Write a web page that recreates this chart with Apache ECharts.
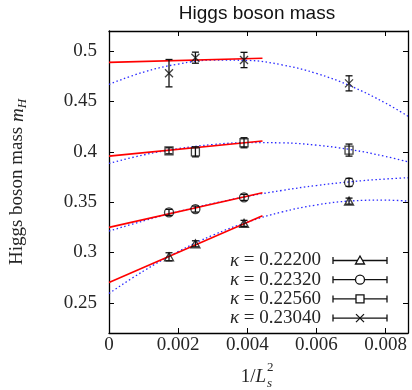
<!DOCTYPE html>
<html>
<head>
<meta charset="utf-8">
<script src="https://cdn.jsdelivr.net/npm/echarts@6.0.0/dist/echarts.min.js"></script>
<style>
  html, body { margin: 0; padding: 0; background: #fff; }
  #chart { width: 412px; height: 390px; }
</style>
</head>
<body>
<div id="chart"></div>
<script>
// 1/L_s^2 for L_s = 24, 20, 16, 12
const invL2 = [0.001736, 0.0025, 0.003906, 0.006944]

const kappas = ['0.22200', '0.22320', '0.22560', '0.23040']

// measured m_H and errors, one array per kappa
const mass22200 = [0.2957, 0.3086, 0.3289, 0.3510]
const err22200 = [0.004, 0.003, 0.003, 0.003]
const mass22320 = [0.3398, 0.3431, 0.3547, 0.3696]
const err22320 = [0.003, 0.003, 0.003, 0.004]
const mass22560 = [0.4010, 0.4000, 0.4090, 0.4017]
const err22560 = [0.003, 0.005, 0.005, 0.006]
const mass23040 = [0.4781, 0.4935, 0.4912, 0.4680]
const err23040 = [0.0136, 0.0055, 0.0076, 0.0075]

// linear fits (red), endpoints
const fitX = [0, 0.00444]
const fit22200 = [0.2702, 0.3364]
const fit22320 = [0.3249, 0.3593]
const fit22560 = [0.3957, 0.4107]
const fit23040 = [0.4888, 0.4930]

// dotted curves (blue)
const curveX = [0, 0.001, 0.002, 0.003, 0.004, 0.005, 0.006, 0.007, 0.008, 0.00865]
const curve22200 = [0.2593, 0.2816, 0.3009, 0.3171, 0.3302, 0.3402, 0.3472, 0.3512, 0.3520, 0.3510]
const curve22320 = [0.3212, 0.3314, 0.3406, 0.3486, 0.3557, 0.3616, 0.3665, 0.3703, 0.3730, 0.3742]
const curve22560 = [0.3885, 0.3969, 0.4031, 0.4072, 0.4091, 0.4089, 0.4066, 0.4021, 0.3954, 0.3900]
const curve23040 = [0.4670, 0.4792, 0.4872, 0.4911, 0.4908, 0.4864, 0.4779, 0.4652, 0.4484, 0.4353]

const xTicks = [0, 0.002, 0.004, 0.006, 0.008]
const yTicks = [0.25, 0.3, 0.35, 0.4, 0.45, 0.5]

const sets = [
  { mass: mass22200, err: err22200, fit: fit22200, curve: curve22200 },
  { mass: mass22320, err: err22320, fit: fit22320, curve: curve22320 },
  { mass: mass22560, err: err22560, fit: fit22560, curve: curve22560 },
  { mass: mass23040, err: err23040, fit: fit23040, curve: curve23040 }
]

const SERIF = 'Liberation Serif'
const TEXT = '#262626'
const crossPath = 'path://M0,0L10,10M10,0L0,10'
const markers = [
  { symbol: 'triangle', size: [9, 8] },
  { symbol: 'circle', size: 9 },
  { symbol: 'rect', size: 8 },
  { symbol: crossPath, size: 8 }
]

function errorBarItem(params, api) {
  const x = api.value(0)
  const lo = api.coord([x, api.value(1)])
  const hi = api.coord([x, api.value(2)])
  const w = 3.5
  const style = { stroke: '#111', lineWidth: 1.3, fill: null }
  return {
    type: 'group',
    children: [
      { type: 'line', shape: { x1: lo[0], y1: lo[1], x2: hi[0], y2: hi[1] }, style },
      { type: 'line', shape: { x1: lo[0] - w, y1: lo[1], x2: lo[0] + w, y2: lo[1] }, style },
      { type: 'line', shape: { x1: hi[0] - w, y1: hi[1], x2: hi[0] + w, y2: hi[1] }, style }
    ]
  }
}

const series = []
sets.forEach((s, k) => {
  series.push({
    name: 'curve' + k,
    type: 'line',
    smooth: 0.4,
    symbol: 'none',
    z: 1,
    data: curveX.map((x, i) => [x, s.curve[i]]),
    lineStyle: { color: '#2a2aff', width: 1.3, type: [1.5, 2.5] }
  })
  series.push({
    name: 'fit' + k,
    type: 'line',
    symbol: 'none',
    z: 2,
    data: fitX.map((x, i) => [x, s.fit[i]]),
    lineStyle: { color: '#ff0000', width: 1.6 }
  })
  series.push({
    name: 'err' + k,
    type: 'custom',
    z: 3,
    renderItem: errorBarItem,
    data: invL2.map((x, i) => [x, s.mass[i] - s.err[i], s.mass[i] + s.err[i]])
  })
  series.push({
    name: 'kappa' + k,
    type: 'scatter',
    z: 4,
    symbol: markers[k].symbol,
    symbolSize: markers[k].size,
    data: invL2.map((x, i) => [x, s.mass[i]]),
    itemStyle: { color: 'rgba(0,0,0,0)', borderColor: '#111', borderWidth: 1.3 }
  })
})

// legend drawn by hand: label, bar with caps, marker
const legendRows = [260.5, 279.7, 298.9, 318.1]
const legendGraphics = []
kappas.forEach((kap, k) => {
  const y = legendRows[k]
  const line = { stroke: '#111', lineWidth: 1.3, fill: null }
  legendGraphics.push({
    type: 'text', x: 321, y: y,
    style: {
      text: '{k|κ} = ' + kap,
      font: '19px ' + SERIF, fill: TEXT,
      align: 'right', verticalAlign: 'middle',
      textAlign: 'right', textVerticalAlign: 'middle',
      rich: { k: { fontStyle: 'italic', fontSize: 19, fontFamily: SERIF, fill: TEXT } }
    }
  })
  legendGraphics.push({ type: 'line', shape: { x1: 333, y1: y, x2: 387, y2: y }, style: line })
  legendGraphics.push({ type: 'line', shape: { x1: 333, y1: y - 3.5, x2: 333, y2: y + 3.5 }, style: line })
  legendGraphics.push({ type: 'line', shape: { x1: 387, y1: y - 3.5, x2: 387, y2: y + 3.5 }, style: line })
  const mk = { stroke: '#111', lineWidth: 1.3, fill: '#fff' }
  const cx = 360
  if (k === 0) {
    legendGraphics.push({ type: 'polygon', shape: { points: [[cx, y - 4.5], [cx + 4.5, y + 3.5], [cx - 4.5, y + 3.5]] }, style: mk })
  } else if (k === 1) {
    legendGraphics.push({ type: 'circle', shape: { cx: cx, cy: y, r: 4.5 }, style: mk })
  } else if (k === 2) {
    legendGraphics.push({ type: 'rect', shape: { x: cx - 4, y: y - 4, width: 8, height: 8 }, style: mk })
  } else {
    legendGraphics.push({ type: 'line', shape: { x1: cx - 4, y1: y - 4, x2: cx + 4, y2: y + 4 }, style: line })
    legendGraphics.push({ type: 'line', shape: { x1: cx + 4, y1: y - 4, x2: cx - 4, y2: y + 4 }, style: line })
  }
})

const titleGraphics = [
  {
    type: 'text', x: 257, y: 14,
    style: {
      text: 'Higgs boson mass',
      font: '19px "Liberation Sans", Arial, sans-serif', fill: '#111',
      align: 'center', verticalAlign: 'middle',
      textAlign: 'center', textVerticalAlign: 'middle'
    }
  },
  // x axis name: 1/L_s^2
  {
    type: 'text', x: 266, y: 377,
    style: {
      text: '1/{i|L}', font: '19px ' + SERIF, fill: TEXT,
      align: 'right', verticalAlign: 'middle',
      textAlign: 'right', textVerticalAlign: 'middle',
      rich: { i: { fontStyle: 'italic', fontSize: 19, fontFamily: SERIF, fill: TEXT } }
    }
  },
  {
    type: 'text', x: 267, y: 368,
    style: {
      text: '2', font: '13px ' + SERIF, fill: TEXT,
      align: 'left', verticalAlign: 'middle', textAlign: 'left', textVerticalAlign: 'middle'
    }
  },
  {
    type: 'text', x: 267, y: 384,
    style: {
      text: 's', font: 'italic 13px ' + SERIF, fill: TEXT,
      align: 'left', verticalAlign: 'middle', textAlign: 'left', textVerticalAlign: 'middle'
    }
  }
]

const axisLine = { show: true, onZero: false, lineStyle: { color: '#000', width: 1.3 } }
const tickStyle = { color: '#000', width: 1 }
const tickRich = { n: { fontFamily: SERIF, fontSize: 19, color: TEXT } }

const option = {
  animation: false,
  backgroundColor: '#fff',
  grid: { left: 107, right: 4, top: 31, bottom: 57 },
  xAxis: [
    {
      type: 'value', min: 0, max: 0.00865, position: 'bottom',
      axisLine,
      axisTick: { inside: true, length: 5, customValues: xTicks, lineStyle: tickStyle },
      axisLabel: {
        customValues: xTicks, margin: 3,
        fontFamily: SERIF, fontSize: 19, color: TEXT,
        formatter: v => '{n|' + v + '}',
        rich: tickRich
      },
      splitLine: { show: false }
    },
    {
      type: 'value', min: 0, max: 0.00865, position: 'top',
      axisLine,
      axisTick: { inside: true, length: 5, customValues: xTicks, lineStyle: tickStyle },
      axisLabel: { show: false },
      splitLine: { show: false }
    }
  ],
  yAxis: [
    {
      type: 'value', min: 0.22, max: 0.52, position: 'left',
      axisLine,
      axisTick: { inside: true, length: 5, customValues: yTicks, lineStyle: tickStyle },
      axisLabel: {
        customValues: yTicks, margin: 12,
        fontFamily: SERIF, fontSize: 19, color: TEXT,
        formatter: v => '{n|' + v + '}',
        rich: tickRich
      },
      splitLine: { show: false },
      name: '{t|Higgs boson mass }{i|m}{s|H}',
      nameLocation: 'middle',
      nameRotate: 90,
      nameGap: 80,
      nameTextStyle: {
        rich: {
          t: { fontFamily: SERIF, fontSize: 19, color: TEXT },
          i: { fontFamily: SERIF, fontSize: 19, fontStyle: 'italic', color: TEXT },
          s: { fontFamily: SERIF, fontSize: 13, fontStyle: 'italic', color: TEXT, padding: [10, 0, 0, 0] }
        }
      }
    },
    {
      type: 'value', min: 0.22, max: 0.52, position: 'right',
      axisLine,
      axisTick: { inside: true, length: 5, customValues: yTicks, lineStyle: tickStyle },
      axisLabel: { show: false },
      splitLine: { show: false }
    }
  ],
  graphic: titleGraphics.concat(legendGraphics),
  series
}

const chart = echarts.init(document.getElementById('chart'))
chart.setOption(option)
window.addEventListener('resize', () => chart.resize())
</script>
</body>
</html>
